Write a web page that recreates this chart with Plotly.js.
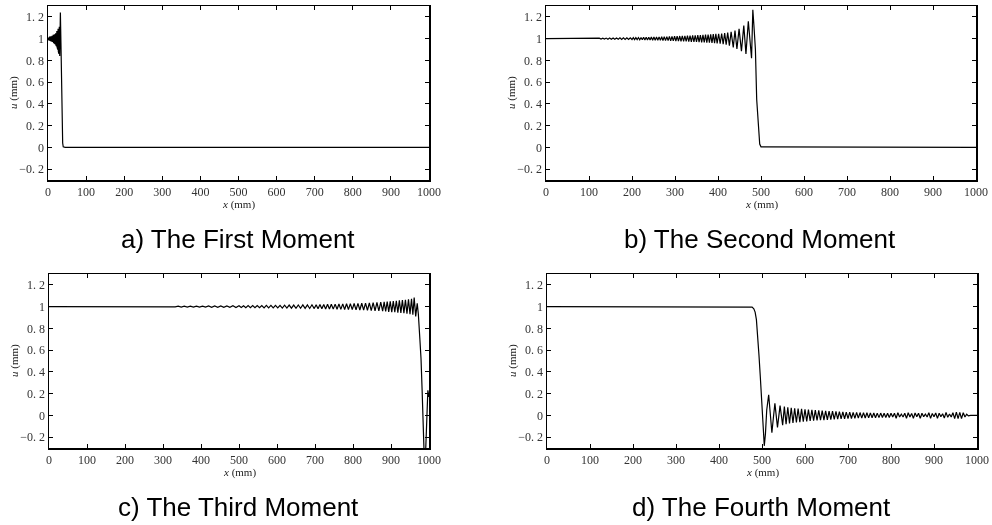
<!DOCTYPE html>
<html>
<head>
<meta charset="utf-8">
<script src="https://cdn.plot.ly/plotly-3.0.1.min.js"></script>
<style>html,body{margin:0;padding:0;background:#fff;}#chart{width:992px;height:525px;will-change:transform;}
#chart text{-webkit-font-smoothing:antialiased;}</style>
</head>
<body>
<div id="chart"></div>
<script>
// ---- data ----
var panelCaptions = ["a) The First Moment", "b) The Second Moment", "c) The Third Moment", "d) The Fourth Moment"];
var xTickVals = [0,100,200,300,400,500,600,700,800,900,1000];
var xTickText = ["0","100","200","300","400","500","600","700","800","900","1000"];
var yTickVals = [-0.2,0,0.2,0.4,0.6,0.8,1,1.2];
var yTickText = ["\u22120. 2","0","0. 2","0. 4","0. 6","0. 8","1","1. 2"];

var xA = [0,0.8,1.6,2.4,3.2,4,4.8,5.6,6.4,7.2,8,8.8,9.6,10.4,11.2,12,12.8,13.6,14.4,15.2,16,16.8,17.6,18.4,19.2,20,20.8,21.6,22.4,23.2,24,24.8,25.6,26.4,27.2,28,28.8,29.6,30.8,32.5,34,35.5,37,38.5,40,45,1000];
var uA = [1,1.01,0.99,1.015,0.985,1.02,0.98,1.02,0.98,1.02,0.975,1.025,0.975,1.025,0.97,1.03,0.97,1.035,0.965,1.035,0.96,1.04,0.955,1.045,0.95,1.05,0.94,1.06,0.93,1.07,0.92,1.08,0.9,1.09,0.88,1.1,0.86,1.11,0.84,1.24,0.96,0.56,0.2,0.04,0.005,0,0];

var xB = [0,120,124,128,132,136,140,144,148,152,156,160,164,168,172,176,180,184,188,192,196,200,203,206,209,212,215,218,221,224,227,230,233,236,239,242,245,248,251,254,257,260,263,266,269,272,275,278,281,284,287,290,293,296,299,302,305,308,311,314,317,320,323,326,329,
332,335,338,341,344,347,350,353,356,359,362,365,368,371,374,377,380,383,386,389,392,395,398,401.5,405,408.5,412,415.5,419,422.5,426.5,430.5,435.5,439.5,444,449,454.5,460,465,470.5,478,481,483.5,487,490,494,497,500,1000];
var uB = [1,1,1.004,0.996,1.004,0.996,1.005,0.995,1.005,0.995,1.006,0.994,1.006,0.994,1.007,0.993,1.007,0.993,1.008,0.992,1.008,0.992,1.009,0.991,1.009,0.991,1.01,0.99,1.011,0.989,1.012,0.988,1.012,0.988,1.013,0.987,1.014,0.986,1.015,0.985,1.015,0.985,1.016,0.984,1.017,0.983,1.018,0.982,1.019,0.981,1.02,0.98,1.021,0.979,1.022,0.978,1.023,0.977,1.024,0.976,1.025,0.975,1.026,0.974,1.027,
0.972,1.028,0.971,1.029,0.97,1.031,0.969,1.032,0.968,1.033,0.966,1.035,0.965,1.036,0.963,1.038,0.962,1.04,0.96,1.041,0.958,1.043,0.956,1.045,0.953,1.047,0.95,1.05,0.945,1.055,0.935,1.063,0.92,1.075,0.905,1.09,0.885,1.12,0.86,1.16,0.82,1.265,1.12,0.9,0.44,0.13,0.03,0.005,0,0];

var xC = [0,300,308,316,324,332,340,348,356,364,372,380,388,396,404,412,420,428,436,444,452,460,468,476,484,492,500,
506,512,518,524,530,536,542,548,554,560,566,572,578,584,590,596,602,608,614,620,626,632,638,644,650,656,662,668,674,680,686,692,698,
703,708,713,718,723,728,733,738,743,748,753,758,763,768,773,778,783,788,793,798,803,808,813,818,823,828,833,838,843,848,853,858,863,868,873,878,
882,886,890,894,898,902,906,910,914,918,922,926,930,934,938,942,946,950,954,957.5,961,965,969,972,976,979,982,985,988,991,994,997,1000];
var uC = [1,1,1.003,0.997,1.003,0.997,1.004,0.996,1.004,0.996,1.004,0.995,1.005,0.995,1.005,0.995,1.006,0.994,1.006,0.994,1.007,0.993,1.007,0.993,1.008,0.992,1.008,
0.992,1.008,0.991,1.009,0.991,1.009,0.99,1.01,0.99,1.01,0.989,1.011,0.989,1.011,0.988,1.012,0.988,1.012,0.987,1.013,0.987,1.014,0.986,1.014,0.985,1.015,0.985,1.016,0.984,1.016,0.983,1.017,0.982,
1.018,0.981,1.019,0.98,1.02,0.979,1.021,0.978,1.022,0.977,1.023,0.976,1.024,0.975,1.025,0.974,1.026,0.973,1.027,0.972,1.029,0.97,1.03,0.969,1.031,0.967,1.033,0.966,1.035,0.964,1.037,0.962,1.039,0.96,1.041,0.958,
1.044,0.955,1.047,0.952,1.049,0.95,1.051,0.948,1.054,0.945,1.057,0.942,1.06,0.94,1.063,0.935,1.067,0.93,1.072,0.925,1.083,0.91,1.03,0.93,0.7,0.52,0.22,-0.3,-0.45,-0.35,-0.05,0.23,0.17];

var xD = [0,470,473,477,481,484,487,490,493,496,499,502,505.3,508,511,515.5,519,523,526.5,530,536,542,548,
552,556,560,564,568,572,576,580,584,588,592,596,600,604,608,612,616,620,624,628,632,636,640,644,648,652,656,660,664,668,672,676,680,684,688,692,696,700,
704,708,712,716,720,724,728,732,736,740,744,748,752,756,760,764,768,772,776,780,784,788,792,796,800,
804,808,812,816,820,824,828,832,836,840,844,848,852,856,860,864,868,872,876,880,884,888,892,896,900,904,908,912,916,920,924,928,932,936,940,944,948,952,956,960,964,968,972,976,980,985,1000];
var uD = [1,1,1,0.995,0.98,0.95,0.88,0.74,0.55,0.36,0.12,-0.1,-0.28,-0.17,0.05,0.19,0.05,-0.16,-0.02,0.11,-0.11,0.09,-0.09,
0.08,-0.08,0.075,-0.075,0.07,-0.07,0.066,-0.066,0.063,-0.062,0.06,-0.058,0.056,-0.055,0.053,-0.052,0.05,-0.049,0.048,-0.047,0.046,-0.045,0.044,-0.043,0.042,-0.041,0.04,-0.039,0.038,-0.037,0.036,-0.035,0.034,-0.033,0.032,-0.031,0.03,-0.03,
0.03,-0.029,0.028,-0.027,0.027,-0.026,0.026,-0.025,0.025,-0.024,0.024,-0.023,0.023,-0.022,0.022,-0.022,0.021,-0.021,0.021,-0.02,0.02,-0.02,0.02,-0.02,0.02,
-0.015,0.02,-0.026,0.025,-0.015,0.012,-0.015,0.02,-0.027,0.024,-0.014,0.018,-0.027,0.022,-0.012,0.02,-0.028,0.02,-0.012,0.012,-0.015,0.025,-0.028,0.018,-0.012,0.022,-0.028,0.02,-0.012,0.015,-0.025,0.028,-0.018,0.012,-0.015,0.025,-0.03,0.03,-0.03,0.028,-0.03,0.025,-0.015,0.01,-0.005,0,0];

// ---- layout ----
var W = 992, H = 525;
function px(x){ return x / W; }
function py(y){ return (H - y) / H; }

var panels = [
  {x: xA, y: uA, left: 48, right: 429, top: 6, bottom: 180},
  {x: xB, y: uB, left: 546, right: 976, top: 6, bottom: 180},
  {x: xC, y: uC, left: 49, right: 429, top: 274, bottom: 448},
  {x: xD, y: uD, left: 547, right: 977, top: 274, bottom: 448}
];

var traces = [];
var layout = {
  width: W, height: H,
  margin: {l:0, r:0, t:0, b:0},
  paper_bgcolor: '#ffffff', plot_bgcolor: '#ffffff',
  showlegend: false,
  annotations: []
};
var tickFont = {family: '"Liberation Serif", "DejaVu Serif", serif', size: 12, color: '#333'};

panels.forEach(function(p, i){
  var n = i + 1;
  var xk = 'xaxis' + (n === 1 ? '' : n);
  var yk = 'yaxis' + (n === 1 ? '' : n);
  var xr = 'x' + (n === 1 ? '' : n);
  var yr = 'y' + (n === 1 ? '' : n);
  traces.push({
    type: 'scatter', mode: 'lines', x: p.x, y: p.y,
    xaxis: xr, yaxis: yr,
    line: {color: '#000', width: 1.2},
    hoverinfo: 'skip'
  });
  layout[xk] = {
    domain: [px(p.left), px(p.right)], anchor: yr,
    range: [0, 1000], tickmode: 'array', tickvals: xTickVals, ticktext: xTickText,
    ticks: 'inside', ticklen: 4, tickwidth: 1, tickcolor: '#000',
    showline: true, linecolor: '#000', linewidth: 1.5, mirror: 'ticks',
    showgrid: false, zeroline: false, tickfont: tickFont, fixedrange: true
  };
  layout[yk] = {
    domain: [py(p.bottom), py(p.top)], anchor: xr,
    range: [-0.3, 1.3], tickmode: 'array', tickvals: yTickVals, ticktext: yTickText,
    ticks: 'inside', ticklen: 4, tickwidth: 1, tickcolor: '#000',
    showline: true, linecolor: '#000', linewidth: 1.5, mirror: 'ticks',
    showgrid: false, zeroline: false, tickfont: tickFont, fixedrange: true
  };
  // axis titles
  layout.annotations.push({
    xref: 'paper', yref: 'paper', x: px((p.left + p.right) / 2), y: py(p.bottom + 24),
    xanchor: 'center', yanchor: 'middle', showarrow: false,
    text: '<i>x</i> (mm)', font: {family: '"Liberation Serif", serif', size: 11, color: '#222'}
  });
  layout.annotations.push({
    xref: 'paper', yref: 'paper', x: px(p.left - 35), y: py((p.top + p.bottom) / 2),
    xanchor: 'center', yanchor: 'middle', showarrow: false, textangle: -90,
    text: '<i>u</i> (mm)', font: {family: '"Liberation Serif", serif', size: 11, color: '#222'}
  });
  // caption
  layout.annotations.push({
    xref: 'paper', yref: 'paper', x: px((p.left + p.right) / 2 - 1), y: py(p.bottom + 59),
    xanchor: 'center', yanchor: 'middle', showarrow: false,
    text: panelCaptions[i], font: {family: '"Liberation Sans", Arial, sans-serif', size: 26, color: '#000'}
  });
});

Plotly.newPlot('chart', traces, layout, {staticPlot: true, displayModeBar: false});
</script>
</body>
</html>
